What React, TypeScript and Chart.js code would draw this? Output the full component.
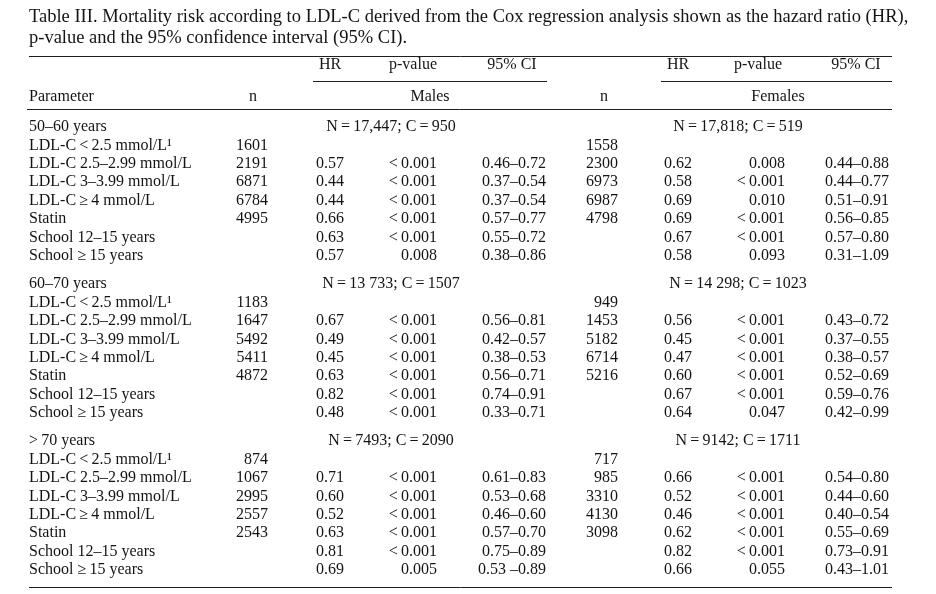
import { useEffect, useRef } from "react";
import { Chart, registerables } from "chart.js";

Chart.register(...registerables);

// ---------- DATA ----------
const titleLines = [
  "Table III. Mortality risk according to LDL-C derived from the Cox regression analysis shown as the hazard ratio (HR),",
  "p-value and the 95% confidence interval (95% CI).",
];
const statHeaders = ["HR", "p-value", "95% CI"];
const groupHeaders = ["Parameter", "n", "Males", "n", "Females"];
const ageGroups = ["50–60 years", "60–70 years", ">\u200970 years"];
const parameters = [
  "LDL-C\u2009<\u20092.5 mmol/L¹",
  "LDL-C 2.5–2.99 mmol/L",
  "LDL-C 3–3.99 mmol/L",
  "LDL-C\u2009≥\u20094 mmol/L",
  "Statin",
  "School 12–15 years",
  "School ≥\u200915 years",
];
const malesSummary = ["N\u2009=\u200917,447; C\u2009=\u2009950", "N\u2009=\u200913 733; C\u2009=\u20091507", "N\u2009=\u20097493; C\u2009=\u20092090"];
const femalesSummary = ["N\u2009=\u200917,818; C\u2009=\u2009519", "N\u2009=\u200914 298; C\u2009=\u20091023", "N\u2009=\u20099142; C\u2009=\u20091711"];

const malesN = [
  [1601, 2191, 6871, 6784, 4995, null, null],
  [1183, 1647, 5492, 5411, 4872, null, null],
  [874, 1067, 2995, 2557, 2543, null, null],
];
const malesHR = [
  [null, 0.57, 0.44, 0.44, 0.66, 0.63, 0.57],
  [null, 0.67, 0.49, 0.45, 0.63, 0.82, 0.48],
  [null, 0.71, 0.6, 0.52, 0.63, 0.81, 0.69],
];
const malesP = [
  [null, "<0.001", "<0.001", "<0.001", "<0.001", "<0.001", "0.008"],
  [null, "<0.001", "<0.001", "<0.001", "<0.001", "<0.001", "<0.001"],
  [null, "<0.001", "<0.001", "<0.001", "<0.001", "<0.001", "0.005"],
];
const malesCI = [
  [null, "0.46–0.72", "0.37–0.54", "0.37–0.54", "0.57–0.77", "0.55–0.72", "0.38–0.86"],
  [null, "0.56–0.81", "0.42–0.57", "0.38–0.53", "0.56–0.71", "0.74–0.91", "0.33–0.71"],
  [null, "0.61–0.83", "0.53–0.68", "0.46–0.60", "0.57–0.70", "0.75–0.89", "0.53 –0.89"],
];
const femalesN = [
  [1558, 2300, 6973, 6987, 4798, null, null],
  [949, 1453, 5182, 6714, 5216, null, null],
  [717, 985, 3310, 4130, 3098, null, null],
];
const femalesHR = [
  [null, 0.62, 0.58, 0.69, 0.69, 0.67, 0.58],
  [null, 0.56, 0.45, 0.47, 0.6, 0.67, 0.64],
  [null, 0.66, 0.52, 0.46, 0.62, 0.82, 0.66],
];
const femalesP = [
  [null, "0.008", "<0.001", "0.010", "<0.001", "<0.001", "0.093"],
  [null, "<0.001", "<0.001", "<0.001", "<0.001", "<0.001", "0.047"],
  [null, "<0.001", "<0.001", "<0.001", "<0.001", "<0.001", "0.055"],
];
const femalesCI = [
  [null, "0.44–0.88", "0.44–0.77", "0.51–0.91", "0.56–0.85", "0.57–0.80", "0.31–1.09"],
  [null, "0.43–0.72", "0.37–0.55", "0.38–0.57", "0.52–0.69", "0.59–0.76", "0.42–0.99"],
  [null, "0.54–0.80", "0.44–0.60", "0.40–0.54", "0.55–0.69", "0.73–0.91", "0.43–1.01"],
];

// ---------- LAYOUT (positions in x-scale units, rows in y-scale row units) ----------
const FONT = '"Liberation Serif", "Times New Roman", serif';
const TEXT_COLOR = "#141414";
const BODY_SIZE = 16;
const ROW_PX = 18.43;
const FIRST_ROW_PX = 127;
const AREA_TOP_PX = 50;
const GROUP_STEP = 8.52;
const Y_MIN = -(FIRST_ROW_PX - AREA_TOP_PX) / ROW_PX;
const Y_MAX = Y_MIN + (594 - AREA_TOP_PX) / ROW_PX;

const ROW_HEAD1 = -3.36;
const ROW_HEAD2 = -1.63;
const RULE_TOP = -3.83;
const RULE_SUB = -2.5;
const RULE_HEAD = -0.98;
const RULE_BOTTOM = 2 * GROUP_STEP + 7 + 0.92;

const X_LEFT = 29;
const X_RIGHT = 892;
const M = { n: 268, nHead: 253, hr: 330, p: 437, pHead: 413, ci: 546, ciHead: 512, label: 430, summary: 391, lineL: 313, lineR: 547 };
const F = { n: 618, nHead: 604, hr: 678, p: 785, pHead: 758, ci: 889, ciHead: 856, label: 778, summary: 738, lineL: 661, lineR: 892 };

const fmtHR = (v: number | null) => (v == null ? null : v.toFixed(2));
const fmtP = (v: string | null) => (v == null ? null : v.replace("<", "<\u2009"));

const tablePlugin = {
  id: "tableCells",
  beforeDraw(chart: any) {
    const { ctx } = chart;
    ctx.save();
    ctx.fillStyle = "#ffffff";
    ctx.fillRect(0, 0, chart.width, chart.height);
    ctx.restore();
  },
  afterDraw(chart: any) {
    const { ctx } = chart;
    const xs = chart.scales.x;
    const ys = chart.scales.y;
    const text = (s: string | null, xv: number, yv: number, align: CanvasTextAlign) => {
      if (s == null) return;
      ctx.textAlign = align;
      ctx.fillText(s, xs.getPixelForValue(xv), ys.getPixelForValue(yv));
    };
    const rule = (x1: number, x2: number, yv: number, w: number) => {
      const y = Math.round(ys.getPixelForValue(yv)) + (w % 2 ? 0.5 : 0);
      ctx.beginPath();
      ctx.lineWidth = w;
      ctx.strokeStyle = "#1e1e1e";
      ctx.moveTo(xs.getPixelForValue(x1), y);
      ctx.lineTo(xs.getPixelForValue(x2), y);
      ctx.stroke();
    };
    ctx.save();
    ctx.font = `${BODY_SIZE}px ${FONT}`;
    ctx.fillStyle = TEXT_COLOR;
    ctx.textBaseline = "middle";

    // rules
    rule(X_LEFT, X_RIGHT, RULE_TOP, 1);
    rule(M.lineL, M.lineR, RULE_SUB, 1);
    rule(F.lineL, F.lineR, RULE_SUB, 1);
    rule(X_LEFT - 2, X_RIGHT, RULE_HEAD, 1);
    rule(X_LEFT, X_RIGHT, RULE_BOTTOM, 1);

    // header row 1
    text(statHeaders[0], M.hr, ROW_HEAD1, "center");
    text(statHeaders[1], M.pHead, ROW_HEAD1, "center");
    text(statHeaders[2], M.ciHead, ROW_HEAD1, "center");
    text(statHeaders[0], F.hr, ROW_HEAD1, "center");
    text(statHeaders[1], F.pHead, ROW_HEAD1, "center");
    text(statHeaders[2], F.ciHead, ROW_HEAD1, "center");
    // header row 2
    text(groupHeaders[0], X_LEFT, ROW_HEAD2, "left");
    text(groupHeaders[1], M.nHead, ROW_HEAD2, "center");
    text(groupHeaders[2], M.label, ROW_HEAD2, "center");
    text(groupHeaders[3], F.nHead, ROW_HEAD2, "center");
    text(groupHeaders[4], F.label, ROW_HEAD2, "center");

    ageGroups.forEach((g, gi) => {
      const base = gi * GROUP_STEP;
      text(g, X_LEFT, base, "left");
      text(malesSummary[gi], M.summary, base, "center");
      text(femalesSummary[gi], F.summary, base, "center");
      parameters.forEach((p, k) => {
        const yv = base + k + 1;
        text(p, X_LEFT, yv, "left");
        const mn = malesN[gi][k];
        text(mn == null ? null : String(mn), M.n, yv, "right");
        text(fmtHR(malesHR[gi][k]), M.hr, yv, "center");
        text(fmtP(malesP[gi][k]), M.p, yv, "right");
        text(malesCI[gi][k], M.ci, yv, "right");
        const fn = femalesN[gi][k];
        text(fn == null ? null : String(fn), F.n, yv, "right");
        text(fmtHR(femalesHR[gi][k]), F.hr, yv, "center");
        text(fmtP(femalesP[gi][k]), F.p, yv, "right");
        text(femalesCI[gi][k], F.ci, yv, "right");
      });
    });
    ctx.restore();
  },
};

export default function App() {
  const ref = useRef<HTMLCanvasElement>(null);
  useEffect(() => {
    const chart = new Chart(ref.current as HTMLCanvasElement, {
      type: "scatter",
      data: { datasets: [] },
      options: {
        responsive: false,
        animation: false,
        devicePixelRatio: 1,
        layout: { padding: { left: X_LEFT, right: 0, top: 0, bottom: 0 } },
        plugins: {
          legend: { display: false },
          tooltip: { enabled: false },
          title: {
            display: true,
            text: titleLines,
            align: "start",
            color: TEXT_COLOR,
            font: { family: FONT, size: 18.5, weight: "normal", lineHeight: "21px" },
            padding: { top: 6.5, bottom: 1.5 },
          },
        },
        scales: {
          x: { type: "linear", display: false, min: X_LEFT, max: 936 },
          y: { type: "linear", display: false, reverse: true, min: Y_MIN, max: Y_MAX },
        },
      },
      plugins: [tablePlugin],
    } as any);
    return () => chart.destroy();
  }, []);
  return (
    <div style={{ position: "absolute", left: 0, top: 0, width: 936, height: 594, background: "#fff" }}>
      <canvas ref={ref} width={936} height={594} style={{ display: "block" }} />
    </div>
  );
}
